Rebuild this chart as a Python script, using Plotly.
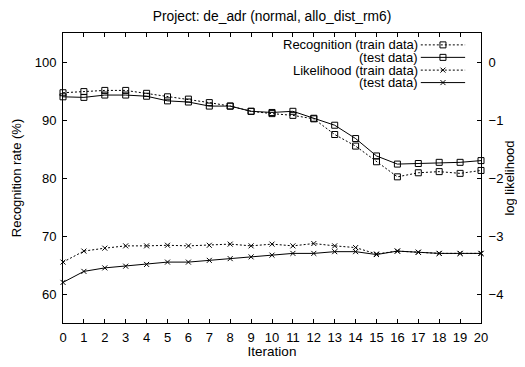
import plotly.graph_objects as go

iterations = list(range(21))
x_ticks = list(range(21))

rec_train = [94.7, 94.9, 95.1, 95.1, 94.6, 94.0, 93.6, 93.0, 92.4, 91.5, 91.1,
             90.8, 90.2, 87.5, 85.5, 82.8, 80.2, 80.9, 81.1, 80.8, 81.3]
rec_test = [94.0, 93.9, 94.3, 94.3, 94.1, 93.3, 93.1, 92.4, 92.4, 91.5, 91.3,
            91.5, 90.3, 89.1, 86.8, 83.8, 82.4, 82.5, 82.7, 82.7, 83.0]
lik_train = [-3.45, -3.26, -3.21, -3.17, -3.17, -3.16, -3.17, -3.16, -3.14, -3.17, -3.14,
             -3.17, -3.13, -3.17, -3.20, -3.31, -3.26, -3.28, -3.30, -3.30, -3.30]
lik_test = [-3.80, -3.61, -3.55, -3.52, -3.49, -3.45, -3.45, -3.42, -3.39, -3.36, -3.33,
            -3.30, -3.30, -3.27, -3.27, -3.32, -3.26, -3.28, -3.30, -3.30, -3.30]

legend_labels = ["Recognition (train data)", "(test data)",
                 "Likelihood (train data)", "(test data)"]

FONT = "Liberation Sans, Arial, sans-serif"
DOT = "2px,2px"

sq = dict(symbol="square-open", size=6, color="black", line=dict(width=1, color="black"))
cx = dict(symbol="x-thin-open", size=5, color="black", line=dict(width=1, color="black"))

fig = go.Figure()
fig.add_trace(go.Scatter(x=iterations, y=rec_train, mode="lines+markers",
                         line=dict(color="black", width=1, dash=DOT), marker=sq,
                         cliponaxis=False, showlegend=False))
fig.add_trace(go.Scatter(x=iterations, y=rec_test, mode="lines+markers",
                         line=dict(color="black", width=1), marker=sq,
                         cliponaxis=False, showlegend=False))
fig.add_trace(go.Scatter(x=iterations, y=lik_train, mode="lines+markers", yaxis="y2",
                         line=dict(color="black", width=1, dash=DOT), marker=cx,
                         cliponaxis=False, showlegend=False))
fig.add_trace(go.Scatter(x=iterations, y=lik_test, mode="lines+markers", yaxis="y2",
                         line=dict(color="black", width=1), marker=cx,
                         cliponaxis=False, showlegend=False))

# manual gnuplot-style legend (text right-aligned, sample on the right)
rows_y = [0.959, 0.916, 0.872, 0.829]
styles = [(DOT, sq), ("solid", sq), (DOT, cx), ("solid", cx)]
for yy, lab, (dash, mk) in zip(rows_y, legend_labels, styles):
    fig.add_trace(go.Scatter(x=[0.856, 0.962], y=[yy, yy], mode="lines", xaxis="x3", yaxis="y3",
                             line=dict(color="black", width=1, dash=dash),
                             showlegend=False, hoverinfo="skip", cliponaxis=False))
    fig.add_trace(go.Scatter(x=[0.909], y=[yy], mode="markers", xaxis="x3", yaxis="y3",
                             marker=mk, showlegend=False, hoverinfo="skip", cliponaxis=False))
    fig.add_annotation(x=0.849, y=yy, xref="x3", yref="y3", text=lab, showarrow=False,
                       xanchor="right", yanchor="middle", xshift=2,
                       font=dict(size=13, color="black", family=FONT))

axis_common = dict(showgrid=False, zeroline=False, ticks="inside", ticklen=4, automargin=False,
                   linecolor="black", linewidth=1, tickcolor="black",
                   tickfont=dict(size=13, color="black", family=FONT))

# the page adds an 8px body margin on every side; the figure fits inside the window
fig.update_layout(
    width=509, height=351,
    margin=dict(l=55, r=36, t=25, b=36, autoexpand=False),
    paper_bgcolor="white", plot_bgcolor="white",
    font=dict(family=FONT, color="black", size=13),
    title=dict(text="Project: de_adr (normal, allo_dist_rm6)", x=0.5, xref="paper", xanchor="center",
               y=1 - 8.5 / 351, yanchor="middle", font=dict(size=13.8, family=FONT, color="black")),
    xaxis=dict(range=[0, 20], tickvals=x_ticks, mirror="ticks", ticklabelstandoff=2,
               title=dict(text="Iteration", font=dict(size=13.5), standoff=2), **axis_common),
    yaxis=dict(range=[55, 105], tickvals=[60, 70, 80, 90, 100], mirror=False, ticklabelstandoff=3,
               title=dict(text="Recognition rate (%)", font=dict(size=13), standoff=10), **axis_common),
    yaxis2=dict(range=[-4.5, 0.5], tickvals=[-4, -3, -2, -1, 0], overlaying="y", side="right",
                ticklabelstandoff=4,
                title=dict(text="log likelihood", font=dict(size=13), standoff=1), **axis_common),
    xaxis3=dict(domain=[0, 1], range=[0, 1], visible=False, anchor="y3", overlaying="x"),
    yaxis3=dict(domain=[0, 1], range=[0, 1], visible=False, anchor="x3", overlaying="y"),
)

fig.write_html("out.html")
